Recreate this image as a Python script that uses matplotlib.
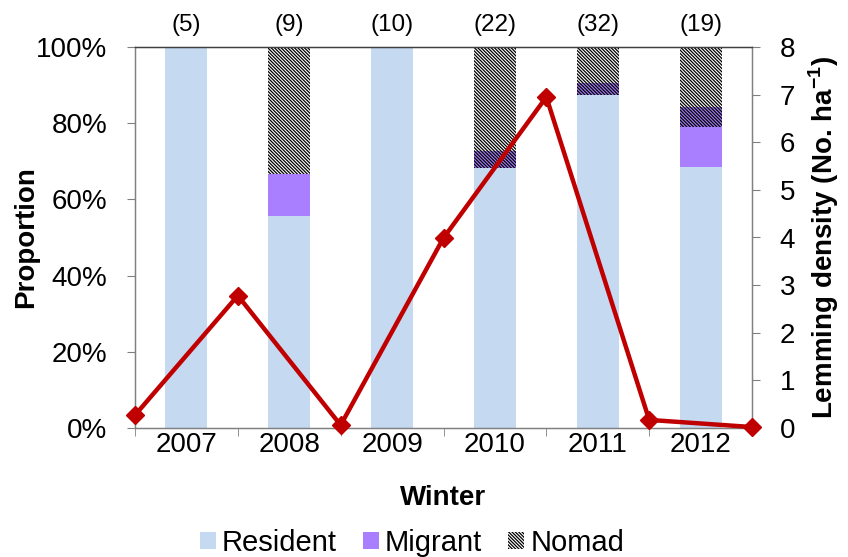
import matplotlib
matplotlib.use("Agg")
import matplotlib.pyplot as plt
import numpy as np
from matplotlib.ticker import FuncFormatter, FixedLocator
from matplotlib.patches import Patch

plt.rcParams['font.family'] = ['Liberation Sans', 'DejaVu Sans']
plt.rcParams['hatch.linewidth'] = 0.9

years = ['2007', '2008', '2009', '2010', '2011', '2012']
n_ind = ['(5)', '(9)', '(10)', '(22)', '(32)', '(19)']
resident = [1.0, 5/9, 1.0, 15/22, 28/32, 13/19]
migrant = [0.0, 1/9, 0.0, 0.0, 0.0, 2/19]
mig_nomad = [0.0, 0.0, 0.0, 1/22, 1/32, 1/19]
nomad = [0.0, 3/9, 0.0, 6/22, 3/32, 3/19]
density_x = [-0.5, 0.5, 1.5, 2.5, 3.5, 4.5, 5.5]
density = [0.27, 2.78, 0.06, 3.99, 6.95, 0.17, 0.02]

c_res = '#C5D9F1'
c_mig = '#A97FFF'
c_line = '#C00000'
HATCH = '\\' * 10

fig = plt.figure(figsize=(8.48, 5.57), dpi=100)
ax = fig.add_axes([135/848, 1-428/557, (752-135)/848, (428-47)/557])
x = np.arange(len(years))
w = 0.41
ax.bar(x, resident, w, color=c_res, linewidth=0, zorder=2)
b1 = np.array(resident)
ax.bar(x, migrant, w, bottom=b1, color=c_mig, linewidth=0, zorder=2)
b2 = b1 + np.array(migrant)
ax.bar(x, mig_nomad, w, bottom=b2, color=c_mig, edgecolor='black', hatch=HATCH, linewidth=0, zorder=2)
b3 = b2 + np.array(mig_nomad)
ax.bar(x, nomad, w, bottom=b3, color='white', edgecolor='black', hatch=HATCH, linewidth=0, zorder=2)

ax.set_xlim(-0.5, 5.5)
ax.set_ylim(0, 1)
ax.yaxis.set_major_locator(FixedLocator([0, .2, .4, .6, .8, 1.0]))
ax.yaxis.set_major_formatter(FuncFormatter(lambda v, p: f"{v*100:.0f}%"))
ax.set_xticks(x)
ax.set_xticklabels(years)
ax.set_xticks(np.arange(-0.5, 6, 1), minor=True)
ax.tick_params(axis='x', which='major', length=0, labelsize=20, pad=3)
ax.tick_params(axis='x', which='minor', length=6, direction='out', color='#808080')
ax.tick_params(axis='y', labelsize=20, length=6, direction='out', color='#808080', pad=14)
for s in ax.spines.values():
    s.set_color('#808080')
    s.set_linewidth(1.0)
ax.spines['top'].set_color('#404040')
ax.set_ylabel('Proportion', fontsize=20, fontweight='bold', labelpad=-2)
ax.set_xlabel('Winter', fontsize=20, fontweight='bold', labelpad=19)

for i, t in enumerate(n_ind):
    ax.text(x[i], 1.028, t, ha='center', va='bottom', fontsize=17.5,
            transform=ax.get_xaxis_transform())

ax2 = ax.twinx()
ax2.plot(density_x, density, color=c_line, lw=3.2, marker='D', markersize=9,
         clip_on=False, zorder=5)
ax2.set_ylim(0, 8)
ax2.set_yticks(range(0, 9))
ax2.tick_params(axis='y', labelsize=20, length=6, direction='out', color='#808080', pad=14)
for s in ax2.spines.values():
    s.set_color('#808080')
ax2.spines['top'].set_color('#404040')
ax2.set_ylabel('Lemming density (No. ha$^{\\mathregular{-1}}$)', fontsize=20, fontweight='bold', labelpad=8)

handles = [Patch(facecolor=c_res, linewidth=0),
           Patch(facecolor=c_mig, linewidth=0),
           Patch(facecolor='white', edgecolor='black', hatch=HATCH, linewidth=0)]
fig.legend(handles, ['Resident', 'Migrant', 'Nomad'], loc='center',
           bbox_to_anchor=(412/848, 1-543/557), ncol=3, frameon=False, fontsize=21,
           handlelength=0.55, handleheight=0.55, handletextpad=0.2, columnspacing=0.9,
           borderpad=0)

fig.savefig('out.png', dpi=100)
